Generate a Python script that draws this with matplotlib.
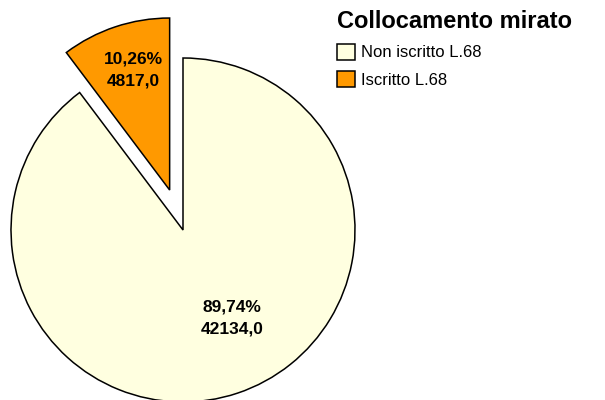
import numpy as np
import matplotlib
matplotlib.use("Agg")
import matplotlib.pyplot as plt

plt.rcParams['font.family'] = ['Liberation Sans', 'DejaVu Sans']

categories = ["Non iscritto L.68", "Iscritto L.68"]
values = [42134.0, 4817.0]
colors = ["#FFFFE0", "#FF9900"]
explode = [0.0, 0.245]
title = "Collocamento mirato"

total = sum(values)

def fmt(v):
    return "{:.2f}%\n{:.1f}".format(100 * v / total, v).replace(".", ",")

fig = plt.figure(figsize=(6.05, 4.0), dpi=100)
# pie radius 1 -> about 172 px, centre near (183, 230) from top-left
ax = fig.add_axes([11 / 605, (400 - 230 - 172) / 400, 344 / 605, 344 / 400])
wedges, _ = ax.pie(values, colors=colors, explode=explode, startangle=90,
                   counterclock=False, radius=1.0,
                   wedgeprops=dict(edgecolor="black", linewidth=1.1))
for w in wedges:
    w.set_clip_on(False)
ax.set_xlim(-1, 1)
ax.set_ylim(-1, 1)
ax.set_aspect("auto")
ax.axis("off")

# label placement: distance from wedge centre and angle shift, per slice
label_dist = [0.585, 0.73]
label_shift = [10.6, -1.5]
for w, v, d, s in zip(wedges, values, label_dist, label_shift):
    mid = np.deg2rad((w.theta1 + w.theta2) / 2 + s)
    cx, cy = w.center
    ax.text(cx + d * np.cos(mid), cy + d * np.sin(mid), fmt(v),
            ha="center", va="center", fontsize=12.5, fontweight="bold",
            linespacing=1.6)

leg = fig.legend(wedges, categories, title=title, loc="upper left",
                 bbox_to_anchor=(335 / 605, 1 - 8 / 400), frameon=False,
                 fontsize=12, handlelength=1.1, handleheight=1.1,
                 handletextpad=0.35, labelspacing=0.65, borderaxespad=0,
                 borderpad=0.1, alignment="left")
leg.get_title().set_fontsize(17)
leg.get_title().set_fontweight("bold")

fig.savefig("out.png", dpi=100)
